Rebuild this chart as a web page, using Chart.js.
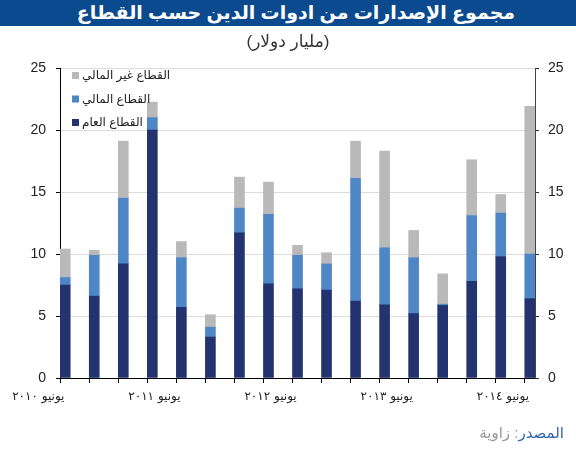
<!DOCTYPE html>
<html>
<head>
<meta charset="utf-8">
<script src="https://cdn.jsdelivr.net/npm/chart.js@4.4.0/dist/chart.umd.min.js"></script>
<style>
  body { margin: 0; background: #fff; font-family: 'Liberation Sans', 'DejaVu Sans', sans-serif; }
  #wrap { position: relative; width: 576px; height: 450px; }
  #box { position: absolute; left: 0; top: 0; width: 576px; height: 450px; }
  .title { position: absolute; left: 0; top: 0; width: 560px; padding-left: 16px; height: 26px; background: #0b4a8f; color: #fff;
    font-weight: bold; font-size: 19px; text-align: center; line-height: 26px; }
  .sub { position: absolute; left: 0; top: 31px; width: 576px; text-align: center; font-size: 17px; color: #333; }
  .src { position: absolute; right: 12px; top: 424px; font-size: 15px; color: #999; }
  .src b { font-weight: normal; color: #2f64ad; }
</style>
</head>
<body>
<div id="wrap">
  <div id="box"><canvas id="chart"></canvas></div>
  <div class="title" dir="rtl">مجموع الإصدارات من ادوات الدين حسب القطاع</div>
  <div class="sub" dir="rtl">(مليار دولار)</div>
  <div class="src" dir="rtl"><b>المصدر</b>: زاوية</div>
</div>
<script>
// quarters from June 2010 to June 2014
const quarters = ['2010Q2','2010Q3','2010Q4','2011Q1','2011Q2','2011Q3','2011Q4','2012Q1','2012Q2',
  '2012Q3','2012Q4','2013Q1','2013Q2','2013Q3','2013Q4','2014Q1','2014Q2'];
const xLabels = ['يونيو ٢٠١٠','','','','يونيو ٢٠١١','','','','يونيو ٢٠١٢','','','','يونيو ٢٠١٣','','','','يونيو ٢٠١٤'];
const yTicks = [0, 5, 10, 15, 20, 25];

// billion dollars
const publicSector = [7.5, 6.6, 9.2, 20.0, 5.7, 3.3, 11.7, 7.6, 7.2, 7.1, 6.2, 5.9, 5.2, 5.85, 7.8, 9.8, 6.4];
const financialSector = [0.6, 3.3, 5.3, 1.0, 4.0, 0.8, 2.0, 5.6, 2.7, 2.1, 9.9, 4.6, 4.5, 0.1, 5.3, 3.5, 3.6];
const nonFinancialSector = [2.3, 0.4, 4.6, 1.25, 1.3, 1.0, 2.5, 2.6, 0.8, 0.9, 3.0, 7.8, 2.2, 2.45, 4.5, 1.5, 11.9];

const toPoints = arr => arr.map((v, i) => ({ x: i, y: v }));

const yTickFont = { family: "'Liberation Sans', 'DejaVu Sans', sans-serif", size: 14 };

// legend drawn inside the plot, top-left, grey item on top
const insideLegend = {
  id: 'insideLegend',
  afterDraw(chart) {
    const ctx = chart.ctx;
    const a = chart.chartArea;
    ctx.save();
    ctx.font = "12px 'Liberation Sans', 'DejaVu Sans', sans-serif";
    ctx.textBaseline = 'middle';
    ctx.textAlign = 'left';
    const items = chart.data.datasets.slice().reverse();
    items.forEach((ds, k) => {
      const y = a.top + 8 + k * 23.5;
      ctx.fillStyle = ds.backgroundColor;
      ctx.fillRect(a.left + 12, y - 4, 7, 7);
      ctx.fillStyle = '#222';
      ctx.fillText(ds.label, a.left + 22, y);
    });
    ctx.restore();
  }
};

new Chart(document.getElementById('chart'), {
  type: 'bar',
  data: {
    datasets: [
      { label: 'القطاع العام', data: toPoints(publicSector), backgroundColor: '#22336f', barThickness: 10 },
      { label: 'القطاع المالي', data: toPoints(financialSector), backgroundColor: '#4f86c6', barThickness: 10 },
      { label: 'القطاع غير المالي', data: toPoints(nonFinancialSector), backgroundColor: '#b9b9b9', barThickness: 10 }
    ]
  },
  plugins: [insideLegend],
  options: {
    responsive: true,
    maintainAspectRatio: false,
    animation: false,
    layout: { padding: { top: 68, left: 0, right: 0, bottom: 42 } },
    plugins: {
      tooltip: { enabled: false },
      legend: { display: false }
    },
    scales: {
      x: {
        type: 'linear',
        stacked: true,
        offset: false,
        min: -0.18,
        max: 16.18,
        afterBuildTicks: s => { s.ticks = quarters.map((q, i) => ({ value: i - 0.17 })); },
        afterFit: s => { s.height = 30; },
        grid: { offset: false, drawOnChartArea: false, drawTicks: true, tickLength: 5, tickColor: '#000' },
        border: { color: '#000' },
        ticks: {
          autoSkip: false, maxRotation: 0, padding: 7, labelOffset: -22, color: '#222',
          font: { family: "'DejaVu Sans', sans-serif", size: 12 },
          callback: (v, i) => xLabels[i]
        }
      },
      y: {
        stacked: true,
        position: 'left',
        min: 0, max: 25,
        afterBuildTicks: s => { s.ticks = yTicks.map(v => ({ value: v })); },
        afterFit: s => { s.width = 60; },
        grid: { color: '#dcdcdc', tickColor: '#000', tickLength: 4 },
        border: { color: '#000' },
        ticks: { padding: 10, color: '#222', font: yTickFont }
      },
      y2: {
        position: 'right',
        min: 0, max: 25,
        afterBuildTicks: s => { s.ticks = yTicks.map(v => ({ value: v })); },
        afterFit: s => { s.width = 41; },
        grid: { drawOnChartArea: false, tickColor: '#333', tickLength: 4 },
        border: { color: '#444' },
        ticks: { padding: 9, color: '#222', font: yTickFont }
      }
    }
  }
});
</script>
</body>
</html>
